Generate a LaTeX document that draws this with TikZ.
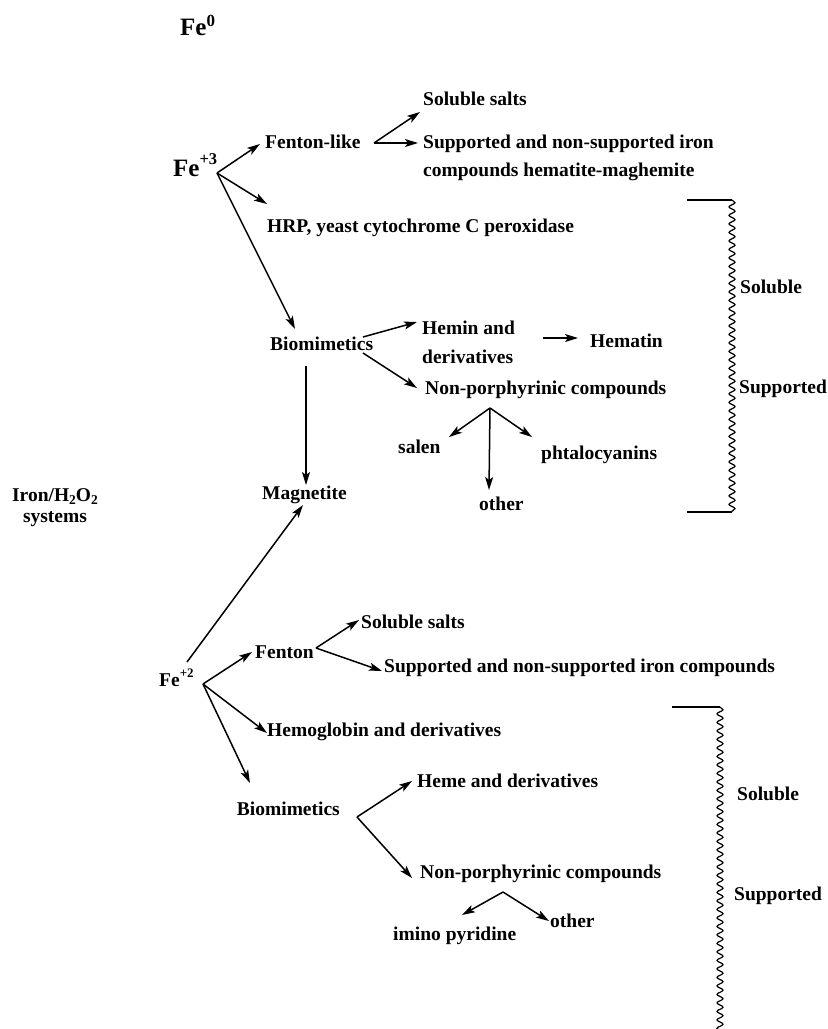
\documentclass[tikz,border=0pt]{standalone}
\usepackage{fontspec}
\setmainfont{Liberation Serif}
\usetikzlibrary{arrows.meta,decorations.pathmorphing}
\newcommand{\mysup}[3]{\raisebox{#2}{\fontsize{#1}{#1}\selectfont #3}}
\begin{document}
\begin{tikzpicture}[x=1pt,y=-1pt,
  lbl/.style={anchor=base west, inner sep=0pt, font=\bfseries\fontsize{19.5}{24}\selectfont},
  big/.style={anchor=base west, inner sep=0pt, font=\bfseries\fontsize{25}{30}\selectfont},
  arr/.style={line width=1.5pt, -{Stealth[length=13pt,width=8pt,inset=3pt]}},
  plain/.style={line width=1.5pt},
  wave/.style={line width=1.2pt, decorate, decoration={snake, amplitude=3pt, segment length=8.5pt}}]
\useasboundingbox (0,0) rectangle (828,1029);

% ---------- labels ----------
\node[big] (fe0) at (180,35) {Fe\mysup{17}{9pt}{0}};
\node[big] (fe3) at (173,176) {Fe\mysup{16.5}{12pt}{+3}};
\node[lbl] (fl) at (265,148) {Fenton-like};
\node[lbl] (ss1) at (423,105) {Soluble salts};
\node[anchor=north west, inner sep=0pt, align=left, font=\bfseries\fontsize{19.5}{28}\selectfont] (sn1) at (423,135) {Supported and non-supported iron\\compounds hematite-maghemite};
\node[lbl] (hrp) at (267,232) {HRP, yeast cytochrome C peroxidase};
\node[lbl] (bio1) at (270,350) {Biomimetics};
\node[anchor=north west, inner sep=0pt, align=left, font=\bfseries\fontsize{19.5}{29}\selectfont] (hemin) at (422,321) {Hemin and\\derivatives};
\node[lbl] (hematin) at (590,347) {Hematin};
\node[lbl] (np1) at (425,394) {Non-porphyrinic compounds};
\node[lbl] (salen) at (398,453) {salen};
\node[lbl] (phta) at (541,459) {phtalocyanins};
\node[lbl] (oth1) at (479,510) {other};
\node[lbl] (mag) at (262,499) {Magnetite};
\node[anchor=north, inner sep=0pt, align=center, font=\bfseries\fontsize{19.5}{21}\selectfont] (iron) at (55,488) {Iron/H\mysup{13.5}{-3pt}{2}O\mysup{13.5}{-3pt}{2}\\systems};
\node[lbl] (sol1) at (740,293) {Soluble};
\node[lbl] (sup1) at (739,393) {Supported};

\node[lbl] (fe2) at (159,686) {Fe\mysup{13}{9pt}{+2}};
\node[lbl] (fen) at (255,658) {Fenton};
\node[lbl] (ss2) at (361,628) {Soluble salts};
\node[lbl] (sn2) at (384,672) {Supported and non-supported iron compounds};
\node[lbl] (hemo) at (267,736) {Hemoglobin and derivatives};
\node[lbl, anchor=base east] (bio2) at (340,815) {Biomimetics};
\node[lbl] (heme) at (417,787) {Heme and derivatives};
\node[lbl] (np2) at (420,878) {Non-porphyrinic compounds};
\node[lbl] (imino) at (393,940) {imino pyridine};
\node[lbl] (oth2) at (550,927) {other};
\node[lbl] (sol2) at (737,800) {Soluble};
\node[lbl] (sup2) at (734,900) {Supported};

% ---------- connector points ----------
\coordinate (b3) at (217,173);
\coordinate (tfl) at (260,144);
\coordinate (thrp) at (267,204);
\coordinate (tbio1) at (295,329);
\coordinate (bfl) at (374,143);
\coordinate (tss1) at (420,112);
\coordinate (tsn1) at (418,143);
\coordinate (sb1a) at (363,337);
\coordinate (themin) at (417,322);
\coordinate (sb1b) at (363,353);
\coordinate (tnp1) at (417,388);
\coordinate (shem) at (543,338);
\coordinate (themat) at (578,338);
\coordinate (bnp1) at (490,408);
\coordinate (tsalen) at (449,437);
\coordinate (toth1) at (489,490);
\coordinate (tphta) at (532,437);
\coordinate (sbm) at (306,366);
\coordinate (tmag) at (306,485);
\coordinate (sfm) at (187,662);
\coordinate (tmag2) at (303,505);

\coordinate (b2) at (203,684);
\coordinate (tfen) at (252,652);
\coordinate (themo) at (267,733);
\coordinate (tbio2) at (250,783);
\coordinate (bfen) at (316,648);
\coordinate (tss2) at (359,620);
\coordinate (tsn2) at (382,671);
\coordinate (vb2) at (357,817);
\coordinate (theme) at (412,781);
\coordinate (tnp2) at (412,878);
\coordinate (bnp2) at (503,892);
\coordinate (timino) at (462,915);
\coordinate (toth2) at (549,921);

% bracket points
\coordinate (k1a) at (687,200);
\coordinate (k1b) at (732,200);
\coordinate (k1c) at (732,512);
\coordinate (k1d) at (687,512);
\coordinate (k2a) at (672,707);
\coordinate (k2b) at (720,707);
\coordinate (k2c) at (720,1032);

% ---------- connectors ----------
\draw[arr] (b3) -- (tfl);
\draw[arr] (b3) -- (thrp);
\draw[arr] (b3) -- (tbio1);
\draw[arr] (bfl) -- (tss1);
\draw[arr] (bfl) -- (tsn1);
\draw[arr] (sb1a) -- (themin);
\draw[arr] (sb1b) -- (tnp1);
\draw[arr] (shem) -- (themat);
\draw[arr] (bnp1) -- (tsalen);
\draw[arr] (bnp1) -- (toth1);
\draw[arr] (bnp1) -- (tphta);
\draw[arr] (sbm) -- (tmag);
\draw[arr] (sfm) -- (tmag2);

\draw[arr] (b2) -- (tfen);
\draw[arr] (b2) -- (themo);
\draw[arr] (b2) -- (tbio2);
\draw[arr] (bfen) -- (tss2);
\draw[arr] (bfen) -- (tsn2);
\draw[arr] (vb2) -- (theme);
\draw[arr] (vb2) -- (tnp2);
\draw[arr] (bnp2) -- (timino);
\draw[arr] (bnp2) -- (toth2);

% ---------- brackets ----------
\draw[plain] (k1a) -- (k1b);
\draw[wave] (k1b) -- (k1c);
\draw[plain] (k1c) -- (k1d);
\draw[plain] (k2a) -- (k2b);
\draw[wave] (k2b) -- (k2c);
\end{tikzpicture}
\end{document}
